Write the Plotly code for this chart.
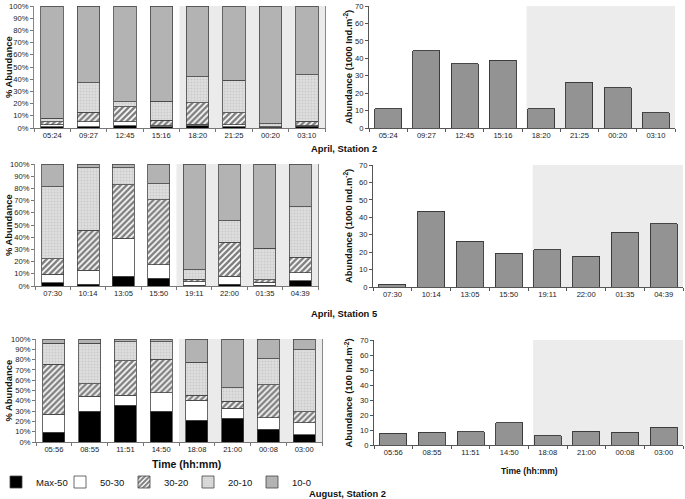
import plotly.graph_objects as go

# ---------------- data ----------------
classes = ["Max-50", "50-30", "30-20", "20-10", "10-0"]

t1 = ["05:24", "09:27", "12:45", "15:16", "18:20", "21:25", "00:20", "03:10"]
t2 = ["07:30", "10:14", "13:05", "15:50", "19:11", "22:00", "01:35", "04:39"]
t3 = ["05:56", "08:55", "11:51", "14:50", "18:08", "21:00", "00:08", "03:00"]

# % abundance per size class (April, Station 2)
p1_max50 = [1, 1, 2, 1, 2, 1, 0.3, 1.5]
p1_50_30 = [1.5, 4, 3, 1, 1, 1.5, 0.5, 0.5]
p1_30_20 = [2.5, 8, 12.5, 4.5, 17.5, 10, 0.2, 3.5]
p1_20_10 = [3, 24, 4, 15.5, 21.5, 26.5, 2.5, 38]
p1_10_0 = [92, 63, 78.5, 78, 58, 61, 96.5, 56.5]

# April, Station 5
p2_max50 = [2.5, 1.5, 8, 6.5, 0.5, 1.5, 0.5, 4.5]
p2_50_30 = [7, 11.5, 31, 11, 3, 6.5, 2.5, 6.5]
p2_30_20 = [13, 32.5, 44, 53, 2, 28, 2, 12.5]
p2_20_10 = [59, 51.5, 14, 13.5, 8, 17.5, 26, 41.5]
p2_10_0 = [18.5, 3, 3, 16, 86.5, 46.5, 69, 35]

# August, Station 2
p3_max50 = [9.5, 30, 35.5, 30, 21, 23, 12.5, 7]
p3_50_30 = [17.5, 14.5, 10, 18, 19.5, 10, 11, 11.5]
p3_30_20 = [48.5, 12, 33.5, 32.5, 5, 6.5, 32, 11]
p3_20_10 = [20.5, 39.5, 18.5, 17, 32, 13, 25.5, 60]
p3_10_0 = [4, 4, 2.5, 2.5, 22.5, 47.5, 19, 10.5]

# total abundance
ab1 = [11, 44.3, 37, 39, 11, 26.3, 23, 8.8]      # 1000 Ind.m-2
ab2 = [1.5, 43.6, 26.2, 19.3, 21.4, 17.6, 31.5, 36.3]  # 1000 Ind.m-2
ab3 = [7.8, 8.4, 8.9, 14.9, 6.2, 9.1, 8.6, 11.7]  # 100 Ind.m-2

# ---------------- styling ----------------
FONT = "Liberation Sans, Arial, sans-serif"
W, H = 685, 499

def fx(px):
    return px / W

def fy(py):
    return 1 - py / H

styles = {
    "Max-50": dict(color="#000000", pattern=dict(shape="")),
    "50-30": dict(color="#ffffff", pattern=dict(shape="")),
    "30-20": dict(color="#ffffff", pattern=dict(shape="/", fgcolor="#000000", bgcolor="#ffffff",
                                               size=4.2, solidity=0.6)),
    "20-10": dict(color="#d9d9d9", pattern=dict(shape=".", fgcolor="#b4b4b4", bgcolor="#dedede",
                                               size=3, solidity=0.3)),
    "10-0": dict(color="#b3b3b3", pattern=dict(shape="")),
}

fig = go.Figure()

stack_sets = [
    (t1, [p1_max50, p1_50_30, p1_30_20, p1_20_10, p1_10_0], "x", "y"),
    (t2, [p2_max50, p2_50_30, p2_30_20, p2_20_10, p2_10_0], "x3", "y3"),
    (t3, [p3_max50, p3_50_30, p3_30_20, p3_20_10, p3_10_0], "x5", "y5"),
]
for i, (cats, series, xa, ya) in enumerate(stack_sets):
    for name, vals in zip(classes, series):
        st = styles[name]
        fig.add_trace(go.Bar(
            x=cats, y=vals, name=name, xaxis=xa, yaxis=ya, width=0.62,
            marker=dict(color=st["color"], pattern=st["pattern"],
                        line=dict(color="#444444", width=0.8)),
            legendgroup=name, showlegend=(i == 2),
        ))

bar_sets = [(t1, ab1, "x2", "y2"), (t2, ab2, "x4", "y4"), (t3, ab3, "x6", "y6")]
for cats, vals, xa, ya in bar_sets:
    fig.add_trace(go.Bar(
        x=cats, y=vals, xaxis=xa, yaxis=ya, width=0.7, showlegend=False,
        marker=dict(color="#939393", line=dict(color="#333333", width=0.9)),
    ))

tickfont = dict(family=FONT, size=7.6, color="#222222")

# domains (pixel -> paper)
left_dom = [(34, 325), (35, 318), (36, 322)]
right_dom = [(369, 675), (373, 683), (374, 683)]
left_y = [(6, 128), (164, 286), (339, 442)]
right_y = [(6, 128), (165, 287), (340, 445)]

layout = dict(
    width=W, height=H, margin=dict(l=0, r=0, t=0, b=0, autoexpand=False),
    paper_bgcolor="white", plot_bgcolor="white", barmode="stack",
    font=dict(family=FONT, size=8, color="#111111"),
    bargap=0.3,
)

shapes = []
for r in range(3):
    n = 2 * r + 1
    xl = "xaxis" if n == 1 else f"xaxis{n}"
    yl = "yaxis" if n == 1 else f"yaxis{n}"
    xr = f"xaxis{n+1}"
    yr = f"yaxis{n+1}"
    anchor_l = "y" if n == 1 else f"y{n}"
    anchor_lx = "x" if n == 1 else f"x{n}"
    layout[xl] = dict(domain=[fx(left_dom[r][0]), fx(left_dom[r][1])], anchor=anchor_l,
                      type="category", range=[-0.5, 7.5], showline=True, linecolor="#777777",
                      linewidth=1, ticks="outside", tickson="boundaries", ticklen=3,
                      tickcolor="#777777", tickfont=tickfont, showgrid=False, fixedrange=True)
    layout[yl] = dict(domain=[fy(left_y[r][1]), fy(left_y[r][0])], anchor=anchor_lx,
                      range=[0, 100], dtick=10, ticksuffix="%", showline=True, mirror=True,
                      linecolor="#888888", linewidth=1, ticks="outside", ticklen=3,
                      tickcolor="#777777", tickfont=tickfont, showgrid=False, zeroline=False)
    layout[xr] = dict(domain=[fx(right_dom[r][0]), fx(right_dom[r][1])], anchor=f"y{n+1}",
                      type="category", range=[-0.5, 7.5], showline=True, linecolor="#555555",
                      linewidth=1, ticks="outside", tickson="boundaries", ticklen=3,
                      tickcolor="#555555", tickfont=tickfont, showgrid=False)
    layout[yr] = dict(domain=[fy(right_y[r][1]), fy(right_y[r][0])], anchor=f"x{n+1}",
                      range=[0, 70], dtick=10, showline=True, linecolor="#555555", linewidth=1,
                      ticks="outside", ticklen=3, tickcolor="#555555", tickfont=tickfont,
                      showgrid=False, zeroline=False)
    # night shading
    shapes.append(dict(type="rect", xref=anchor_lx, yref=anchor_l, x0=3.5, x1=7.5, y0=0, y1=100,
                       fillcolor="#ebebeb", line=dict(width=0), layer="below"))
    shapes.append(dict(type="rect", xref=f"x{n+1}", yref=f"y{n+1}", x0=3.62, x1=7.5, y0=0, y1=70,
                       fillcolor="#ececec", line=dict(width=0), layer="below"))

layout["shapes"] = shapes

bold = dict(family=FONT, size=9.4, color="#111111")
ann = []
# y titles
for r in range(3):
    yc = (left_y[r][0] + left_y[r][1]) / 2
    ann.append(dict(text="<b>% Abundance</b>", xref="paper", yref="paper", x=fx(8), y=fy(yc),
                    textangle=-90, showarrow=False, font=bold, xanchor="center", yanchor="middle"))
    yc2 = (right_y[r][0] + right_y[r][1]) / 2
    unit = "1000" if r < 2 else "100"
    ann.append(dict(text=f"<b>Abundance ({unit} Ind.m<sup>-2</sup>)</b>", xref="paper", yref="paper",
                    x=fx(348), y=fy(yc2), textangle=-90, showarrow=False, font=bold,
                    xanchor="center", yanchor="middle"))
# captions
for txt, yy, cx in [("April, Station 2", 148, 344), ("April, Station 5", 313, 344),
                    ("August, Station 2", 493, 348)]:
    ann.append(dict(text=f"<b>{txt}</b>", xref="paper", yref="paper", x=fx(cx), y=fy(yy),
                    showarrow=False, font=bold, xanchor="center", yanchor="middle"))
# time titles
ann.append(dict(text="<b>Time (hh:mm)</b>", xref="paper", yref="paper", x=fx(187), y=fy(464),
                showarrow=False, font=dict(family=FONT, size=10.5, color="#111111"),
                xanchor="center", yanchor="middle"))
ann.append(dict(text="<b>Time (hh:mm)</b>", xref="paper", yref="paper", x=fx(529), y=fy(471),
                showarrow=False, font=dict(family=FONT, size=8.6, color="#111111"),
                xanchor="center", yanchor="middle"))
layout["annotations"] = ann

layout["legend"] = dict(orientation="h", x=fx(-4), y=fy(482), xanchor="left", yanchor="middle",
                        font=dict(family=FONT, size=9.5, color="#111111"),
                        entrywidth=19, entrywidthmode="pixels", traceorder="normal",
                        bgcolor="rgba(0,0,0,0)", itemwidth=30, tracegroupgap=0)

fig.update_layout(**layout)
fig.write_html("out.html", config={"displayModeBar": False},
               post_script="document.body.style.margin='0';document.body.style.overflow='hidden';")
